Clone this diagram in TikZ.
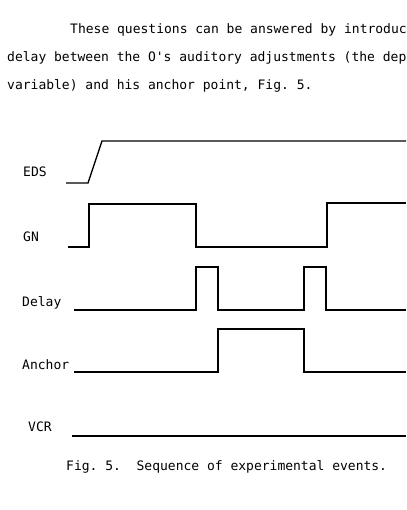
\documentclass[tikz,border=0pt]{standalone}
\usepackage{fontspec}
\setmonofont{DejaVu Sans Mono}

\begin{document}
\begin{tikzpicture}[x=1pt, y=-1pt,
    txt/.style={anchor=base west, inner sep=0pt,
        font=\ttfamily\frenchspacing\fontsize{13}{13}\selectfont},
    sig/.style={line width=1.3pt, line join=miter}]

    \useasboundingbox (0,0) rectangle (406,510);

    % text above the figure
    \node[txt] (para1) at (70,34) {These questions can be answered by introduc};
    \node[txt] (para2) at (7,62) {delay between the O's auditory adjustments (the dep};
    \node[txt] (para3) at (7,90) {variable) and his anchor point, Fig.\ 5.};

    % signal names
    \node[txt] (eds) at (23,177) {EDS};
    \node[txt] (gn) at (23,241) {GN};
    \node[txt] (delay) at (22,306) {Delay};
    \node[txt] (anchor) at (22,369) {Anchor};
    \node[txt] (vcr) at (28,431) {VCR};

    % signals
    \draw[sig] (66,183) -- (88,183) -- (102,141) -- (406,141);
    \draw[sig] (68,247) -- (89,247) -- (89,204) -- (196,204) -- (196,247)
        -- (327,247) -- (327,203) -- (406,203);
    \draw[sig] (74,310) -- (196,310) -- (196,267) -- (218,267) -- (218,310)
        -- (304,310) -- (304,267) -- (326,267) -- (326,310) -- (406,310);
    \draw[sig] (74,372) -- (218,372) -- (218,329) -- (304,329) -- (304,372)
        -- (406,372);
    \draw[sig] (72,436) -- (406,436);

    \node[txt] (caption) at (66,470) {Fig.\ 5.\ \ Sequence of experimental events.};

\end{tikzpicture}
\end{document}
